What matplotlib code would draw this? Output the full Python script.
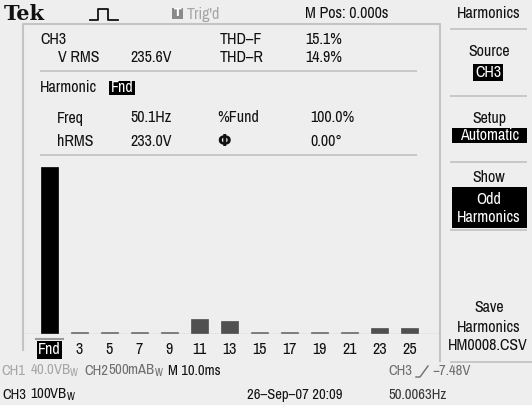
import matplotlib
matplotlib.use("Agg")
import matplotlib.pyplot as plt
from matplotlib import font_manager
from matplotlib.patches import Rectangle

# Harmonic bars (percent of fundamental), odd harmonics only
harmonics = ["Fnd", "3", "5", "7", "9", "11", "13", "15", "17", "19", "21", "23", "25"]
pct_fund = [100.0, 1.2, 1.2, 1.2, 1.2, 8.8, 7.6, 1.2, 1.2, 1.2, 1.2, 3.8, 3.8]

# a narrow sans looks closest to the scope's bitmap font
names = {f.name for f in font_manager.fontManager.ttflist}
FONT, FS = "Liberation Sans", 10
for cand in ["Archivo Narrow", "Roboto Condensed", "Liberation Sans Narrow"]:
    if cand in names:
        FONT, FS = cand, 11.5
        break
FS_LOW = FS - 1  # status lines under the graticule are packed tighter
plt.rcParams["font.family"] = [FONT, "DejaVu Sans"]
plt.rcParams["mathtext.fontset"] = "custom"
plt.rcParams["mathtext.rm"] = FONT

W, H = 532, 405
BG = "#eeeeee"
LINE = "#c4c4c4"
INK = "#111111"
GRAY = "#a6a6a6"
MID = "#6e6e6e"

fig = plt.figure(figsize=(W / 100, H / 100), dpi=100, facecolor=BG)
ax = fig.add_axes([0, 0, 1, 1])
ax.set_xlim(0, W)
ax.set_ylim(H, 0)
ax.axis("off")


def txt(x, y, s, color=INK, ha="left", size=None, **kw):
    ax.text(x, y, s, color=color, ha=ha, va="center", fontsize=size or FS, **kw)


def inv(x0, x1, y0, y1, s):
    ax.add_patch(Rectangle((x0, y0), x1 - x0, y1 - y0, color="black", lw=0))
    txt((x0 + x1) / 2, (y0 + y1) / 2, s, color="white", ha="center")


def hline(y, x0, x1, lw=1.3):
    ax.plot([x0, x1], [y, y], color=LINE, lw=lw, solid_capstyle="butt")


# graticule frame
ax.plot([23, 23, 440, 440], [350, 24, 24, 361], color=LINE, lw=1.5)

# top status line
ax.text(4, 14, "Tek", fontsize=15, fontweight="bold", family="DejaVu Serif",
        color=INK, va="center")
ax.plot([90, 98, 98, 108, 108, 118], [20, 20, 9, 9, 20, 20], color=INK, lw=1.3)
ax.add_patch(Rectangle((172, 8), 11, 11, color="#8a8a8a", lw=0))
ax.text(177.5, 13.5, "T", color="white", fontsize=8, fontweight="bold",
        family="DejaVu Sans", ha="center", va="center")
txt(187, 14, "Trig'd", color=GRAY)
txt(305, 14, "M Pos: 0.000s")
txt(489, 14, "Harmonics", ha="center")

# measurement readout
txt(40, 40, "CH3")
txt(58, 57, "V RMS")
txt(130, 57, "235.6V")
txt(220, 40, "THD\u2013F")
txt(220, 57, "THD\u2013R")
txt(305, 40, "15.1%")
txt(305, 57, "14.9%")
hline(71, 40, 417)
txt(40, 88, "Harmonic")
inv(109, 135, 81, 95, "Fnd")
txt(57, 118, "Freq")
txt(130, 118, "50.1Hz")
txt(217, 118, "%Fund")
txt(310, 118, "100.0%")
txt(57, 142, "hRMS")
txt(130, 142, "233.0V")
txt(217, 142, "\u03a6", fontweight="bold", family="DejaVu Sans")
txt(310, 142, "0.00\u00b0")
hline(155, 40, 417)

# side menu
hline(29, 450, 527)
txt(489, 51, "Source", ha="center")
inv(473, 503, 64, 81, "CH3")
hline(96, 450, 527)
txt(489, 118, "Setup", ha="center")
inv(452, 527, 128, 143, "Automatic")
hline(162, 450, 527)
txt(489, 177, "Show", ha="center")
ax.add_patch(Rectangle((452, 187), 75, 41, color="black", lw=0))
txt(489, 199, "Odd", color="white", ha="center")
txt(489, 217, "Harmonics", color="white", ha="center")
hline(230, 450, 527)
txt(489, 308, "Save", ha="center")
txt(489, 327, "Harmonics", ha="center")
txt(488, 346, "HM0008.CSV", ha="center")
hline(362, 450, 532)

# bottom status lines
txt(1, 371, "CH1", color=GRAY, size=FS_LOW)
txt(30, 371, r"40.0VB$_\mathrm{W}$", color=GRAY, size=FS_LOW)
txt(84, 371, "CH2", color=MID, size=FS_LOW)
txt(108, 371, r"500mAB$_\mathrm{W}$", color=MID, size=FS_LOW)
txt(168, 371, "M 10.0ms", size=FS_LOW, fontweight="medium")
txt(388, 371, "CH3", color=MID, size=FS_LOW)
ax.plot([416, 420, 428], [377, 377, 366], color=MID, lw=1)
txt(432, 371, "\u22127.48V", color=MID, size=FS_LOW)
txt(2, 395, "CH3", size=FS_LOW)
txt(30, 395, r"100VB$_\mathrm{W}$", size=FS_LOW)
txt(247, 395, "26\u2013Sep\u201307 20:09", size=FS_LOW)
txt(388, 395, "50.0063Hz", color="#333333", size=FS_LOW)

# harmonic bar graph
x0, x1, y0, y1 = 23, 440, 160, 334
bx = fig.add_axes([x0 / W, 1 - y1 / H, (x1 - x0) / W, (y1 - y0) / H])
bx.set_facecolor("none")
pos = list(range(len(harmonics)))
colors = ["black"] + ["#505050" if p > 2 else "#6c6c6c" for p in pct_fund[1:]]
bx.bar(pos, pct_fund, width=0.57, color=colors, edgecolor=colors, lw=0.5)
bx.axhline(0, color=LINE, lw=1)
bx.set_xlim((x0 - 49.5) / 30, (x1 - 49.5) / 30)
bx.set_ylim(0, (y1 - y0) / (y1 - 167.3) * 100)
bx.set_yticks([])
bx.set_xticks(pos)
bx.set_xticklabels(harmonics, fontsize=FS, color=INK)
bx.tick_params(axis="x", length=0, pad=6)
bx.get_xticklabels()[0].set_color("white")
bx.get_xticklabels()[0].set_bbox(dict(facecolor="black", edgecolor="none", pad=1.2))
for s in bx.spines.values():
    s.set_visible(False)
ax.plot([36, 63], [339, 339], color="#9a9a9a", lw=1.5)

fig.savefig("out.png", dpi=100, facecolor=BG)
